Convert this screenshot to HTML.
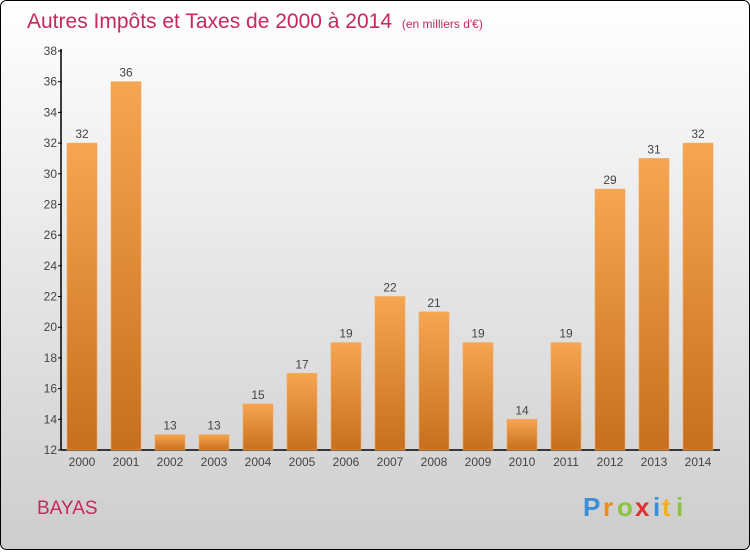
<!DOCTYPE html>
<html><head><meta charset="utf-8"><style>
body{margin:0;width:750px;height:550px;overflow:hidden;font-family:"Liberation Sans",sans-serif}
</style></head><body>
<svg width="750" height="550" xmlns="http://www.w3.org/2000/svg">
<defs>
<linearGradient id="bg" x1="0" y1="0" x2="0" y2="1"><stop offset="0" stop-color="#ffffff"/><stop offset="1" stop-color="#cdcdcd"/></linearGradient>
<linearGradient id="bar" x1="0" y1="0" x2="0" y2="1"><stop offset="0" stop-color="#f6a650"/><stop offset="1" stop-color="#c76f1c"/></linearGradient>
</defs>
<rect x="0.5" y="0.5" width="749" height="549" rx="6" fill="url(#bg)" stroke="#000"/>
<text x="27" y="28" font-size="21" fill="#c8285a">Autres Impôts et Taxes de 2000 à 2014 <tspan font-size="12" dx="4">(en milliers d'€)</tspan></text>
<g id="axes"></g>
<g id="bars"></g>
<text x="37" y="514" font-size="19" fill="#c8285a">BAYAS</text>
<g font-size="26" font-weight="bold">
<text x="583" y="516" fill="#3a8fd8">P</text><text x="603" y="516" fill="#f08a20">r</text><text x="617" y="516" fill="#8cc43c">o</text><text x="635" y="516" fill="#e03030">x</text><text x="653" y="516" fill="#3a8fd8">i</text><text x="662" y="516" fill="#f0b020">t</text><text x="676" y="516" fill="#8cc43c">i</text>
</g>
</svg>
<script>
const categories=["2000","2001","2002","2003","2004","2005","2006","2007","2008","2009","2010","2011","2012","2013","2014"];
const values=[32,36,13,13,15,17,19,22,21,19,14,19,29,31,32];
const yTicks=[12,14,16,18,20,22,24,26,28,30,32,34,36,38];
const NS="http://www.w3.org/2000/svg";
const y0=450,y1=51,vmin=12,vmax=38;
const yScale=v=>y0-(v-vmin)/(vmax-vmin)*(y0-y1);
const xScale=i=>82+i*44;
const ax=document.getElementById('axes'),bg=document.getElementById('bars');
function mk(tag,attrs,parent,txt){const e=document.createElementNS(NS,tag);for(const k in attrs)e.setAttribute(k,attrs[k]);if(txt!==undefined)e.textContent=txt;parent.appendChild(e);return e;}
let l=mk('line',{x1:61,y1:y1-2,x2:61,y2:y0,stroke:'#000','stroke-width':1.5},ax);


l=mk('line',{x1:61,y1:y0,x2:720,y2:y0,stroke:'#000','stroke-width':1.5},ax);


yTicks.forEach(t=>{const y=yScale(t);
 const tk=mk('line',{x1:58,y1:y,x2:62,y2:y,stroke:'#000'},ax);
 
 
 const tx=mk('text',{x:57,y:y+4,'font-size':12,fill:'#444','text-anchor':'end'},ax,t);
 
 
});
categories.forEach((c,i)=>{const cx=xScale(i),v=values[i],y=yScale(v);
 const r=mk('rect',{x:cx-15,y:y,width:30,height:y0-y,fill:'url(#bar)',stroke:'#f2a85c','stroke-width':0.6},bg);
 
 
 const vl=mk('text',{x:cx,y:y-5,'font-size':12,fill:'#444','text-anchor':'middle'},bg,v);
 
 
 const xl=mk('text',{x:cx,y:466,'font-size':12,fill:'#444','text-anchor':'middle'},ax,c);
 
 
});
</script>
</body></html>
